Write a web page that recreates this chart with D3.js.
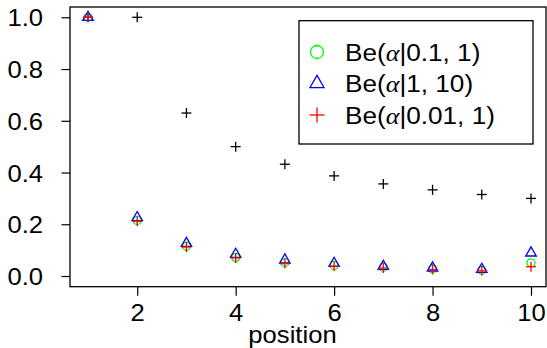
<!DOCTYPE html>
<html>
<head>
<meta charset="utf-8">
<script src="https://cdn.jsdelivr.net/npm/d3@7"></script>
<style>
  body { margin: 0; background: #fff; }
  text { font-family: "Liberation Sans", Arial, sans-serif; fill: #000; }
</style>
</head>
<body>
<div id="chart"></div>
<script>
var width = 547;
var height = 348;

// data
var positions = [1, 2, 3, 4, 5, 6, 7, 8, 9, 10];
var blackPlus = [1.0, 1.0, 0.63, 0.50, 0.432, 0.387, 0.356, 0.333, 0.315, 0.30];
var greenCircle = [1.0, 0.215, 0.115, 0.072, 0.052, 0.041, 0.034, 0.028, 0.022, 0.051];
var blueTriangle = [1.0, 0.226, 0.126, 0.084, 0.062, 0.049, 0.037, 0.031, 0.026, 0.089];
var redPlus = [1.0, 0.212, 0.112, 0.070, 0.048, 0.038, 0.031, 0.025, 0.020, 0.036];
var xTicks = [2, 4, 6, 8, 10];
var yTicks = [0.0, 0.2, 0.4, 0.6, 0.8, 1.0];
var legendNames = [["0.1, 1"], ["1, 10"], ["0.01, 1"]];

var box = { left: 70, top: 7, right: 546, bottom: 286.7 };
var stretch = 1.09;

var xScale = d3.scaleLinear().domain([1, 10]).range([88, 531]);
var yScale = d3.scaleLinear().domain([0, 1]).range([276, 17.3]);

var svg = d3.select("#chart").append("svg")
  .attr("width", width)
  .attr("height", height);

/* frame */
svg.append("rect")
  .attr("x", box.left)
  .attr("y", box.top)
  .attr("width", box.right - box.left)
  .attr("height", box.bottom - box.top)
  .attr("fill", "none")
  .attr("stroke", "#000")
  .attr("stroke-width", 1.3);

/* axes */
var yAxis = d3.axisLeft(yScale)
  .tickValues(yTicks)
  .tickFormat(d3.format(".1f"))
  .tickSize(8.5);

var xAxis = d3.axisBottom(xScale)
  .tickValues(xTicks)
  .tickSize(9);

var gy = svg.append("g")
  .attr("transform", `translate(${box.left},0)`)
  .call(yAxis);

var gx = svg.append("g")
  .attr("transform", `translate(0,${box.bottom})`)
  .call(xAxis);

[gx, gy].forEach(function(g) {
  g.select(".domain").remove();
  g.selectAll(".tick line").attr("stroke", "#000").attr("stroke-width", 1.2);
  g.selectAll(".tick text")
    .attr("font-size", 23.5)
    .attr("font-family", "Liberation Sans, Arial, sans-serif")
    .attr("fill", "#000");
});

gy.selectAll(".tick text")
  .attr("x", null)
  .attr("dy", null)
  .attr("dominant-baseline", "central")
  .attr("transform", `translate(-27,0.5) scale(${stretch},1)`);

gx.selectAll(".tick text")
  .attr("y", null)
  .attr("dy", null)
  .attr("transform", `translate(0,34) scale(${stretch},1)`);

svg.append("text")
  .attr("transform", `translate(292.5,343) scale(${stretch},1)`)
  .attr("text-anchor", "middle")
  .attr("font-size", 23.5)
  .text("position");

/* marker helpers */
function plus(g, size, colour) {
  g.append("line").attr("x1", -size).attr("x2", size).attr("y1", 0).attr("y2", 0)
    .attr("stroke", colour).attr("stroke-width", 1.3);
  g.append("line").attr("x1", 0).attr("x2", 0).attr("y1", -size).attr("y2", size)
    .attr("stroke", colour).attr("stroke-width", 1.3);
}
function triangle(g, size, colour) {
  var h = size * Math.sqrt(3) / 2;
  g.append("path")
    .attr("d", `M0,${-h * 2 / 3}L${size / 2},${h / 3}L${-size / 2},${h / 3}Z`)
    .attr("fill", "none").attr("stroke", colour).attr("stroke-width", 1.3);
}
function circle(g, r, colour) {
  g.append("circle").attr("r", r)
    .attr("fill", "none").attr("stroke", colour).attr("stroke-width", 1.3);
}

var series = [
  { values: blackPlus, draw: (g) => plus(g, 5, "#000") },
  { values: greenCircle, draw: (g) => circle(g, 4, "#00ff00") },
  { values: blueTriangle, draw: (g) => triangle(g, 10.5, "#0000ff") },
  { values: redPlus, draw: (g) => plus(g, 5, "#ff0000") }
];

series.forEach(function(s) {
  svg.append("g").selectAll("g")
    .data(s.values)
    .enter()
    .append("g")
    .attr("transform", (d, i) => `translate(${xScale(positions[i])},${yScale(d)})`)
    .each(function() { s.draw(d3.select(this)); });
});

/* legend */
var legend = svg.append("g");
legend.append("rect")
  .attr("x", 299)
  .attr("y", 20.7)
  .attr("width", 234)
  .attr("height", 123.3)
  .attr("fill", "#fff")
  .attr("stroke", "#000")
  .attr("stroke-width", 1.3);

var legendDraw = [
  (g) => circle(g, 6.5, "#00ff00"),
  (g) => triangle(g, 14, "#0000ff"),
  (g) => plus(g, 7.5, "#ff0000")
];

var items = legend.selectAll(".legend")
  .data(legendNames)
  .enter()
  .append("g")
  .attr("class", "legend")
  .attr("transform", (d, i) => `translate(0,${52 + i * 31.5})`);

items.append("g")
  .attr("transform", "translate(317,0)")
  .each(function(d, i) { legendDraw[i](d3.select(this)); });

var labels = items.append("text")
  .attr("transform", `translate(345,0) scale(${stretch},1)`)
  .attr("dominant-baseline", "central")
  .attr("font-size", 24);
labels.append("tspan").text("Be(");
labels.append("tspan")
  .attr("font-family", "Liberation Serif, serif")
  .attr("font-style", "italic")
  .text("α");
labels.append("tspan").text(d => "|" + d[0] + ")");
</script>
</body>
</html>
